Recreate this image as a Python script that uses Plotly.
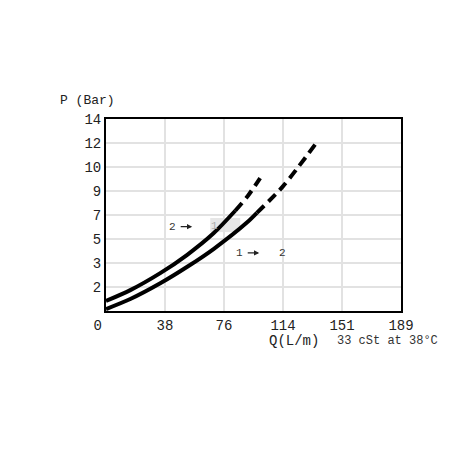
import plotly.graph_objects as go

# flow in L/min, pressure in bar (axes are graduated in GPM / PSI steps)
q_ticks = [0, 37.85, 75.7, 113.56, 151.42, 189.27]
q_labels = ["0\u00a0\u00a0", "38", "76", "114", "151", "189"]
p_ticks = [1.724, 3.447, 5.171, 6.895, 8.618, 10.342, 12.066, 13.79]
p_labels = ["2", "3", "5", "7", "9", "10", "12", "14"]

# curve 2 (upper)
q2_solid = [0, 15.6, 34.8, 51.9, 69.0, 82.9]
p2_solid = [0.72, 1.50, 2.72, 4.02, 5.58, 7.20]
q2_dash = [82.9, 91.2, 98.9]
p2_dash = [7.20, 8.30, 9.55]

# curve 1 (lower)
q1_solid = [0, 15.6, 34.8, 52.9, 69.0, 90.4, 96.8]
p1_solid = [0.14, 0.86, 1.99, 3.23, 4.45, 6.35, 7.05]
q1_dash = [96.8, 113.5, 134.8]
p1_dash = [7.05, 8.95, 12.05]

MONO = "Liberation Mono, Courier New, monospace"

fig = go.Figure()

for qs, ps, dash in [
    (q2_solid, p2_solid, "solid"),
    (q2_dash, p2_dash, "10px,6px"),
    (q1_solid, p1_solid, "solid"),
    (q1_dash, p1_dash, "10px,6px"),
]:
    fig.add_trace(go.Scatter(
        x=qs,
        y=ps,
        mode="lines",
        line=dict(color="black", width=4, dash=dash, shape="spline", smoothing=0.8),
        showlegend=False,
        hoverinfo="skip"
    ))

# faint smudge behind the grey "1"
fig.add_shape(type="rect", x0=66.9, x1=86.1, y0=5.67, y1=6.68,
              fillcolor="rgba(200,200,200,0.45)", line_width=0, layer="below")

small = dict(family=MONO, size=11, color="#333")
fig.add_annotation(x=42.7, y=6.06, text="2", showarrow=False, font=small)
fig.add_annotation(x=55.3, y=6.06, ax=-13, ay=0, text="", showarrow=True,
                   arrowhead=2, arrowsize=0.8, arrowwidth=1.3, arrowcolor="#222")
fig.add_annotation(x=69.4, y=6.1, text="1", showarrow=False,
                   font=dict(family=MONO, size=11, color="#aaa"))
fig.add_annotation(x=85.6, y=4.17, text="1", showarrow=False, font=small)
fig.add_annotation(x=98.3, y=4.17, ax=-13, ay=0, text="", showarrow=True,
                   arrowhead=2, arrowsize=0.8, arrowwidth=1.3, arrowcolor="#222")
fig.add_annotation(x=113.5, y=4.17, text="2", showarrow=False, font=small)

fig.add_annotation(xref="paper", yref="paper", x=-0.162, y=1.094,
                   xanchor="left", yanchor="middle", text="P (Bar)", showarrow=False,
                   font=dict(family=MONO, size=13, color="#222"))
fig.add_annotation(xref="paper", yref="paper", x=0.545, y=-0.155,
                   xanchor="left", yanchor="middle", text="Q(L/m)", showarrow=False,
                   font=dict(family=MONO, size=14, color="#222"))
fig.add_annotation(xref="paper", yref="paper", x=0.777, y=-0.157,
                   xanchor="left", yanchor="middle", text="33 cSt at 38°C", showarrow=False,
                   font=dict(family=MONO, size=12, color="#333"))

fig.update_xaxes(
    range=[0, 189.27],
    tickvals=q_ticks,
    ticktext=q_labels,
    showgrid=True,
    gridcolor="#e2e2e2",
    gridwidth=2,
    showline=True,
    linecolor="black",
    linewidth=2,
    mirror=True,
    zeroline=False,
    ticks="",
    tickfont=dict(family=MONO, size=14, color="#222")
)
fig.update_yaxes(
    range=[0, 13.79],
    tickvals=p_ticks,
    ticktext=p_labels,
    showgrid=True,
    gridcolor="#e2e2e2",
    gridwidth=2,
    showline=True,
    linecolor="black",
    linewidth=2,
    mirror=True,
    zeroline=False,
    ticks="",
    tickfont=dict(family=MONO, size=14, color="#222")
)

fig.update_layout(
    width=452,
    height=452,
    paper_bgcolor="white",
    plot_bgcolor="white",
    margin=dict(l=98, r=59, t=111, b=149),
    showlegend=False
)

fig.write_html("out.html")
